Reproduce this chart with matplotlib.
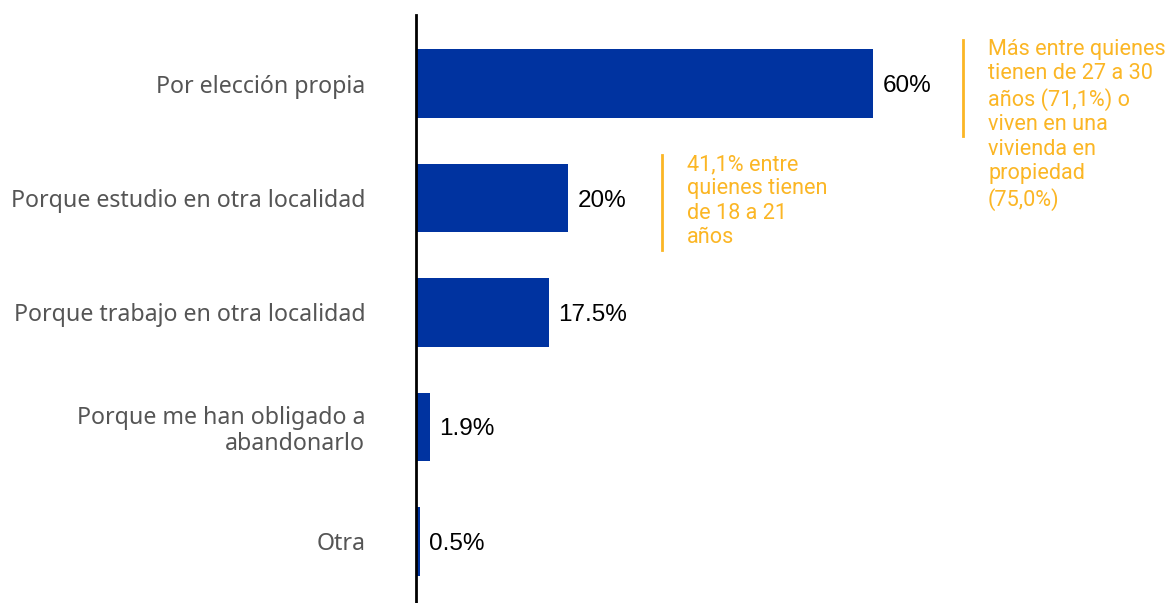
import matplotlib.pyplot as plt

categories = ["Por elección propia", "Porque estudio en otra localidad",
              "Porque trabajo en otra localidad",
              "Porque me han obligado a\nabandonarlo", "Otra"]
values = [60, 20, 17.5, 1.9, 0.5]
value_labels = ["60%", "20%", "17.5%", "1.9%", "0.5%"]
notes = ["Más entre quienes\ntienen de 27 a 30\naños (71,1%) o\nviven en una\nvivienda en\npropiedad\n(75,0%)",
         "41,1% entre\nquienes tienen\nde 18 a 21\naños"]

W, H = 1170, 603
fig = plt.figure(figsize=(W / 100, H / 100), dpi=100)
ax = fig.add_axes([416 / W, 0, 1 - 416 / W, 1 - 15 / H])

bar_col = "#0033a0"
note_col = "#fbb625"

ypos = list(range(len(categories)))
ax.barh(ypos, values, height=0.6, color=bar_col)
ax.set_ylim(4.54, -0.6)
ax.set_xlim(0, (W - 416) / 7.62)

for y, v, lab in zip(ypos, values, value_labels):
    ax.text(v + 1.2, y, lab, va="center_baseline", ha="left", fontsize=17.5,
            family="Liberation Sans", color="black")

ax.set_yticks(ypos)
ax.set_yticklabels(categories, fontsize=16.7, family="Noto Sans", color="#555555",
                   linespacing=1.1)
ax.tick_params(axis="y", length=0, pad=36.5)
ax.set_xticks([])
for s in ["top", "right", "bottom"]:
    ax.spines[s].set_visible(False)
ax.spines["left"].set_linewidth(2)
ax.spines["left"].set_color("black")

# annotations (figure pixel coords)
def note(x_line, y_top, y_bot, text):
    fig.add_artist(plt.Line2D([x_line / W, x_line / W], [1 - y_top / H, 1 - y_bot / H],
                              color=note_col, lw=2))
    fig.text((x_line + 25) / W, 1 - (y_top - 1) / H, text, ha="left", va="top",
             fontsize=15.6, family="Roboto", color=note_col, linespacing=1.21)

note(963, 40, 136, notes[0])
note(662, 155, 250, notes[1])

fig.savefig("out.png", dpi=100)
